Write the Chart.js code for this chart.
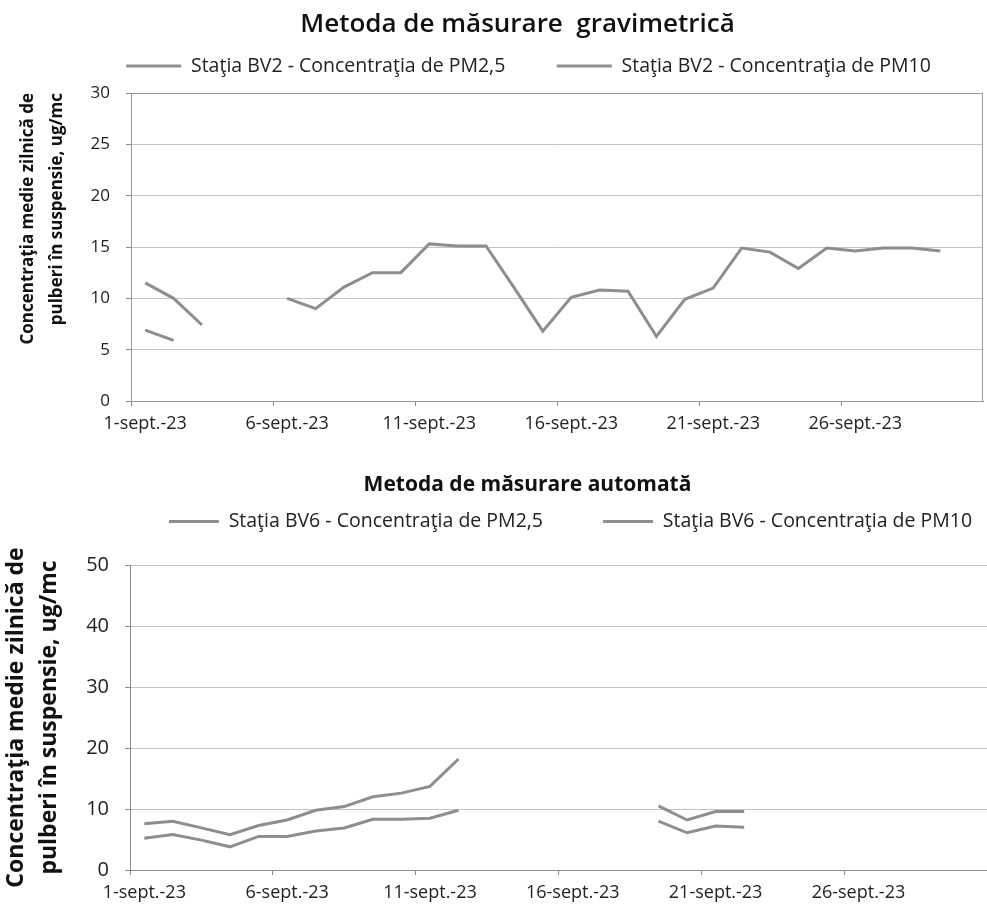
<!DOCTYPE html>
<html>
<head>
<meta charset="utf-8">
<script src="https://cdn.jsdelivr.net/npm/chart.js@4.4.0/dist/chart.umd.min.js"></script>
<style>
  body { margin: 0; background: #fff; }
  canvas { position: absolute; left: 0; }
  #gravChart { top: 0; }
  #autoChart { top: 445px; }
</style>
</head>
<body>
<canvas id="gravChart" width="987" height="440"></canvas>
<canvas id="autoChart" width="987" height="464"></canvas>
<script>
// zilele lunii septembrie 2023
const days = ['1-sept.-23', '2-sept.-23', '3-sept.-23', '4-sept.-23', '5-sept.-23',
    '6-sept.-23', '7-sept.-23', '8-sept.-23', '9-sept.-23', '10-sept.-23',
    '11-sept.-23', '12-sept.-23', '13-sept.-23', '14-sept.-23', '15-sept.-23',
    '16-sept.-23', '17-sept.-23', '18-sept.-23', '19-sept.-23', '20-sept.-23',
    '21-sept.-23', '22-sept.-23', '23-sept.-23', '24-sept.-23', '25-sept.-23',
    '26-sept.-23', '27-sept.-23', '28-sept.-23', '29-sept.-23', '30-sept.-23'];

// Statia BV2 - metoda gravimetrica
const bv2Pm25 = [6.9, 5.9, null, null, null, null, null, null, null, null,
    null, null, null, null, null, null, null, null, null, null,
    null, null, null, null, null, null, null, null, null, null];
const bv2Pm10 = [11.5, 10.0, 7.4, null, null, 10.0, 9.0, 11.1, 12.5, 12.5,
    15.3, 15.1, 15.1, 11.0, 6.8, 10.1, 10.8, 10.7, 6.3, 9.9,
    11.0, 14.9, 14.5, 12.9, 14.9, 14.6, 14.9, 14.9, 14.6, null];

// Statia BV6 - metoda automata
const bv6Pm25 = [5.2, 5.8, 4.9, 3.8, 5.5, 5.5, 6.4, 6.9, 8.3, 8.3,
    8.5, 9.8, null, null, null, null, null, null, 8.0, 6.1,
    7.2, 7.0, null, null, null, null, null, null, null, null];
const bv6Pm10 = [7.6, 8.0, 6.9, 5.8, 7.3, 8.2, 9.8, 10.4, 12.0, 12.6,
    13.7, 18.2, null, null, null, null, null, null, 10.5, 8.2,
    9.6, 9.6, null, null, null, null, null, null, null, null];

const yTitle = ['Concentraţia medie zilnică de', 'pulberi în suspensie, ug/mc'];
const sans = '"Open Sans", sans-serif';
const lineGray = '#8e8e8e';
const gridGray = '#c4c4c4';

// ramă în jurul zonei de desen (doar graficul de sus)
const plotBorder = {
    id: 'plotBorder',
    afterDraw(chart, args, opts) {
        if (!opts.display) return;
        const a = chart.chartArea;
        const ctx = chart.ctx;
        ctx.save();
        ctx.strokeStyle = '#9a9a9a';
        ctx.lineWidth = 1;
        ctx.strokeRect(a.left + 0.5, a.top + 0.5, a.right - a.left - 1, a.bottom - a.top);
        ctx.restore();
    }
};

// mută titlul și legenda spre dreapta, ca în Excel
const shiftHeader = {
    id: 'shiftHeader',
    afterLayout(chart, args, opts) {
        if (chart.titleBlock) {
            chart.titleBlock.left += opts.title;
            chart.titleBlock.right += opts.title;
        }
        if (chart.legend) {
            chart.legend.left += opts.legend;
            chart.legend.right += opts.legend;
        }
    }
};

function createChart(canvasId, cfg) {
    const ctx = document.getElementById(canvasId);
    return new Chart(ctx, {
        type: 'line',
        data: {
            labels: days,
            datasets: cfg.series.map(s => ({
                label: s.label,
                data: s.data,
                borderColor: lineGray,
                backgroundColor: lineGray,
                borderWidth: 3,
                pointRadius: 0,
                tension: 0,
                spanGaps: false
            }))
        },
        options: {
            responsive: false,
            animation: false,
            layout: { padding: { left: 0, right: cfg.padRight, top: 0, bottom: 0 } },
            scales: {
                x: {
                    offset: true,
                    grid: {
                        offset: true,
                        drawOnChartArea: false,
                        tickLength: 5,
                        color: c => c.index % 5 === 0 ? '#8a8a8a' : 'rgba(0,0,0,0)'
                    },
                    border: { color: '#8a8a8a' },
                    ticks: {
                        autoSkip: false,
                        maxRotation: 0,
                        padding: 7,
                        color: '#222',
                        font: { family: sans, size: 18 },
                        callback: function (value, index) {
                            return index % 5 === 0 ? this.getLabelForValue(value) : '';
                        }
                    },
                    afterFit: s => { s.height = 39; }
                },
                y: {
                    min: 0,
                    max: cfg.yMax,
                    ticks: {
                        stepSize: cfg.yStep,
                        padding: 16,
                        color: '#222',
                        font: { family: sans, size: cfg.yFont }
                    },
                    grid: { color: gridGray, tickLength: 5, tickColor: '#8a8a8a' },
                    border: { color: '#8a8a8a' },
                    title: {
                        display: true,
                        text: yTitle,
                        align: cfg.yTitleAlign,
                        color: '#111',
                        padding: { top: cfg.yTitlePad, bottom: 0 },
                        font: { family: sans, size: cfg.yTitleFont, weight: 'bold', lineHeight: cfg.yTitleLine }
                    },
                    afterFit: s => { s.width = cfg.yWidth; }
                }
            },
            plugins: {
                title: {
                    display: true,
                    text: cfg.title,
                    color: '#111',
                    font: { family: sans, size: cfg.titleFont, weight: cfg.titleWeight, lineHeight: 1.2 },
                    padding: { top: cfg.titleTop, bottom: 0 }
                },
                legend: {
                    display: true,
                    labels: {
                        usePointStyle: true,
                        pointStyle: 'line',
                        pointStyleWidth: cfg.sampleWidth,
                        padding: cfg.legendPad,
                        color: '#222',
                        font: { family: sans, size: cfg.legendFont },
                        generateLabels: chart => {
                            const items = Chart.defaults.plugins.legend.labels.generateLabels(chart);
                            items[0].text += ' '.repeat(cfg.legendGap);
                            return items;
                        }
                    }
                },
                // spațiu liber între legendă și zona de desen
                subtitle: {
                    display: true,
                    text: '',
                    weight: 500,
                    font: { size: 1, lineHeight: 1 },
                    padding: { top: 0, bottom: cfg.spacer }
                },
                tooltip: { enabled: false },
                plotBorder: { display: cfg.border },
                shiftHeader: { title: cfg.titleShift, legend: cfg.legendShift }
            }
        },
        plugins: [plotBorder, shiftHeader]
    });
}

function init() {
    createChart('gravChart', {
        title: 'Metoda de măsurare  gravimetrică',
        series: [
            { label: 'Staţia BV2 - Concentraţia de PM2,5', data: bv2Pm25 },
            { label: 'Staţia BV2 - Concentraţia de PM10', data: bv2Pm10 }
        ],
        yMax: 30, yStep: 5, yFont: 17,
        yWidth: 131, padRight: 4,
        yTitleAlign: 'end', yTitlePad: 13, yTitleFont: 17, yTitleLine: 1.73,
        titleFont: 26, titleWeight: 600, titleTop: 9,
        legendFont: 19.5, legendPad: 16, legendGap: 7, sampleWidth: 55,
        spacer: 6.3, border: true, titleShift: 26, legendShift: 37
    });
    createChart('autoChart', {
        title: 'Metoda de măsurare automată',
        series: [
            { label: 'Staţia BV6 - Concentraţia de PM2,5', data: bv6Pm25 },
            { label: 'Staţia BV6 - Concentraţia de PM10', data: bv6Pm10 }
        ],
        yMax: 50, yStep: 10, yFont: 20,
        yWidth: 130, padRight: 0,
        yTitleAlign: 'center', yTitlePad: 0.5, yTitleFont: 23, yTitleLine: 1.43,
        titleFont: 21, titleWeight: 'bold', titleTop: 27,
        legendFont: 19.5, legendPad: 14.5, legendGap: 9, sampleWidth: 50,
        spacer: 22.8, border: false, titleShift: 34, legendShift: 77
    });
}

window.onload = init;
</script>
</body>
</html>
